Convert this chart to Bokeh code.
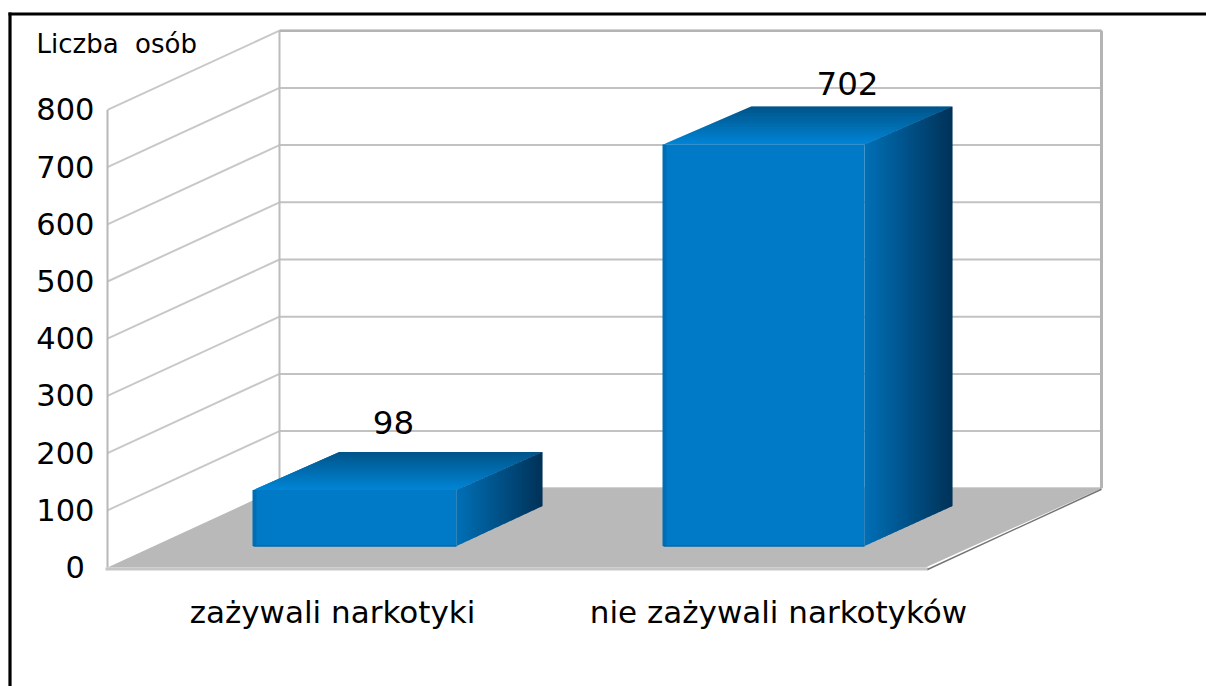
from bokeh.plotting import figure
from bokeh.embed import file_html
from bokeh.resources import INLINE
from bokeh.models import LinearAxis, FixedTicker, Range1d
from bokeh.core.properties import value

# ---- data ----
categories = ["zażywali narkotyki", "nie zażywali narkotyków"]
counts = [98, 702]
y_ticks = [0, 100, 200, 300, 400, 500, 600, 700, 800]
y_title = "Liczba\u00a0 osób"

# ---- layout (x data units are page pixels, y data units are persons) ----
PX = 0.572               # pixels per person
Y0 = 567                 # page pixel of the value 0 on the front plane
FONT = "DejaVu Sans"
def v(py):
    return (Y0 - py) / PX

FRONT_L, FRONT_R, BACK_L, BACK_R = 107, 925, 279, 1101
WALL_DV = 79.2 / PX
bar_left = [253, 663]
bar_width = [203, 201]
bar_dx = [86, 88]
bar_base = v(545.5)
bar_dv_top = 38 / PX
bar_dv_bottom = 40 / PX
label_x = [332, 778]
value_label_x = [393, 847]
value_label_base = [422, 83]

p = figure(width=1206, height=686, toolbar_location=None, output_backend="svg",
           x_axis_type=None, y_axis_type=None, min_border=0,
           x_range=Range1d(0, 1206), y_range=Range1d(v(686), v(0)),
           outline_line_color=None, background_fill_color="white")
p.grid.visible = False

def mix(a, b, t):
    return "#%02x%02x%02x" % tuple(round(a[i] + (b[i] - a[i]) * t) for i in range(3))

# black frame of the picture
p.segment([8, 9.5], [v(13.5), v(12)], [1206, 9.5], [v(13.5), v(686)], line_color="black",
          line_width=3.2)

# walls: back grid, left diagonals
GRID = "#c2c2c2"
for t in y_ticks:
    p.line([BACK_L, BACK_R], [t + WALL_DV] * 2, line_color=GRID, line_width=2)
    if t > 0:
        p.line([FRONT_L, BACK_L], [t, t + WALL_DV], line_color="#c8c8c8", line_width=2)
p.line([BACK_L, BACK_L], [WALL_DV, y_ticks[-1] + WALL_DV], line_color="#bcbcbc", line_width=2)
p.line([BACK_R, BACK_R], [WALL_DV, y_ticks[-1] + WALL_DV], line_color="#b4b4b4", line_width=3)
p.line([BACK_L, BACK_R], [y_ticks[-1] + WALL_DV] * 2, line_color="#b4b4b4", line_width=2.5)
p.line([FRONT_L, FRONT_L], [0, y_ticks[-1]], line_color="#b8b8b8", line_width=2)

# floor
p.patch([FRONT_L, FRONT_R, BACK_R, BACK_L], [0, 0, WALL_DV, WALL_DV], fill_color="#b9b9b9",
        fill_alpha=1, line_color=None)
p.line([105, 928], [v(568.5)] * 2, line_color="#c6c6c6", line_width=3)
p.line([927, BACK_R], [v(569), WALL_DV - 1 / PX], line_color="#757575", line_width=1.5)

# bars: front face, shaded side and top built from thin strips
FRONT_C = "#007ac6"
TOP_F, TOP_B = (0, 133, 214), (0, 84, 136)
SIDE_L, SIDE_R = (0, 112, 182), (0, 50, 88)
for i, c in enumerate(counts):
    l, w, dx = bar_left[i], bar_width[i], bar_dx[i]
    r = l + w
    top = bar_base + c
    p.quad(left=l, right=r, bottom=bar_base, top=top, fill_color=FRONT_C, fill_alpha=1,
           line_color=None)
    p.quad(left=l - 1, right=l + 3, bottom=bar_base, top=top, fill_color="#006eb4",
           fill_alpha=1, line_color=None)
    p.line([l, r], [bar_base, bar_base], line_color="#0068aa", line_width=1.5)
    nt = 38
    xs, ys, cols = [], [], []
    for k in range(nt):
        t0, t1 = k / nt, min((k + 1.6) / nt, 1)
        xs.append([l + dx * t0, r + dx * t0, r + dx * t1, l + dx * t1])
        ys.append([top + bar_dv_top * t0, top + bar_dv_top * t0, top + bar_dv_top * t1, top + bar_dv_top * t1])
        cols.append(mix(TOP_F, TOP_B, (k + 0.5) / nt))
    p.patches(xs, ys, fill_color=cols, fill_alpha=1.0, line_color=None)
    ns = dx
    xs, ys, cols = [], [], []
    for k in range(ns):
        t0, t1 = k / ns, min((k + 1.6) / ns, 1)
        xs.append([r + dx * t0, r + dx * t1, r + dx * t1, r + dx * t0])
        ys.append([bar_base + bar_dv_bottom * t0, bar_base + bar_dv_bottom * t1,
                   top + bar_dv_top * t1, top + bar_dv_top * t0])
        cols.append(mix(SIDE_L, SIDE_R, (k + 0.5) / ns))
    p.patches(xs, ys, fill_color=cols, fill_alpha=1.0, line_color=None)

# value labels and the y title
p.text(value_label_x, [v(b) for b in value_label_base], text=[str(c) for c in counts],
       text_font=value(FONT), text_font_size="32.5px", text_align="center",
       text_baseline="alphabetic", text_color="black")
p.text([36], [v(43)], text=[y_title], text_font=value(FONT), text_font_size="26px",
       text_align="left", text_baseline="alphabetic", text_color="black")

# real axes, pinned inside the full-page frame
yaxis = LinearAxis(ticker=FixedTicker(ticks=y_ticks), fixed_location=103,
                   major_tick_line_color=None, minor_tick_line_color=None,
                   axis_line_color=None, major_label_standoff=3,
                   major_label_text_font=FONT, major_label_text_font_size="30.5px",
                   major_label_text_color="black",
                   major_label_overrides={0: "0\u00a0"})
p.add_layout(yaxis, "left")
xaxis = LinearAxis(ticker=FixedTicker(ticks=label_x), fixed_location=v(584),
                   major_tick_line_color=None, minor_tick_line_color=None,
                   axis_line_color=None, major_label_standoff=3,
                   major_label_text_font=FONT, major_label_text_font_size="31px",
                   major_label_text_color="black",
                   major_label_overrides=dict(zip(label_x, categories)))
p.add_layout(xaxis, "below")

open("out.html", "w").write(file_html(p, INLINE))
